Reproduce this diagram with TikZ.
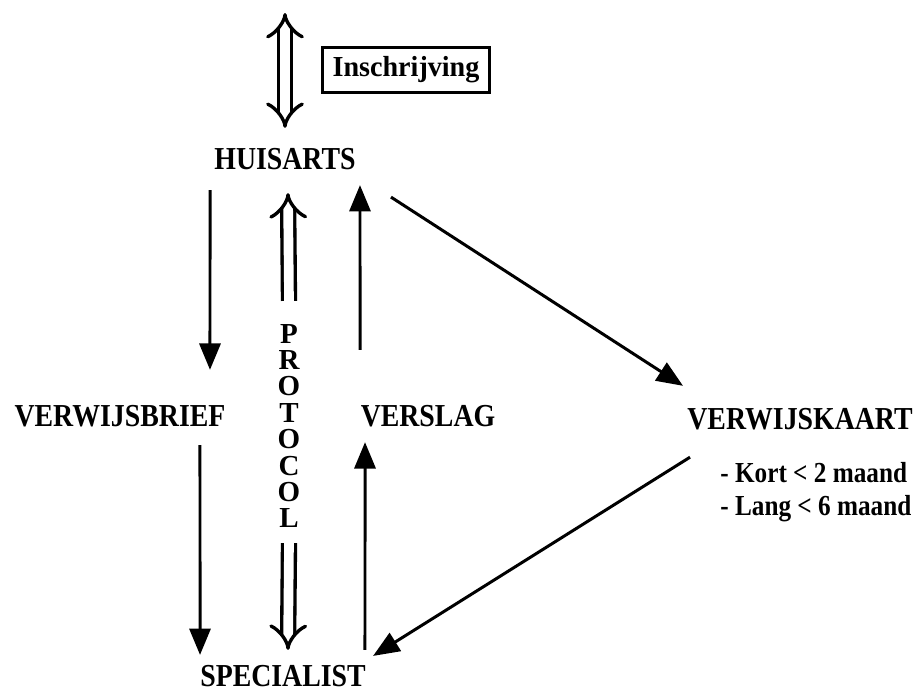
\documentclass[tikz,border=0pt]{standalone}
\usepackage{fontspec}
\setmainfont{Liberation Serif}[FakeStretch=0.87]
\newfontfamily\boxfont{Liberation Serif}[FakeStretch=0.97]
\newfontfamily\protfont{Liberation Serif}
\usetikzlibrary{arrows.meta}

\begin{document}
\begin{tikzpicture}[x=0.02cm,y=-0.02cm,
  lbl/.style={inner sep=0pt,font=\fontsize{18.2}{21}\selectfont\bfseries},
  arr/.style={line width=1.7pt,-{Triangle[length=15pt,width=12pt]}},
  dbl/.style={double,line width=1.9pt,double distance=5.5pt}]
\useasboundingbox (0,0) rectangle (918,693);

\coordinate (reg) at (285,13);
\node [lbl] (hu) at (285,159) {HUISARTS};
\node [draw,line width=1.2pt,minimum width=3.34cm,minimum height=0.9cm,inner sep=0pt,font=\fontsize{16.5}{19}\selectfont\boxfont\bfseries] (ins) at (406,70) {Inschrijving};
\node [lbl] (vb) at (120,416) {VERWIJSBRIEF};
\node [lbl] (vs) at (428,416) {VERSLAG};
\node [lbl] (vk) at (800,419) {VERWIJSKAART};
\node [anchor=north west,inner sep=0pt,align=left,font=\fontsize{16.5}{18.7}\selectfont\bfseries] (dur) at (720,462) {- Kort < 2 maand\\- Lang < 6 maand};
\node [inner sep=0pt,align=center,font=\fontsize{16.5}{15}\selectfont\protfont\bfseries] (prot) at (289,426) {P\\R\\O\\T\\O\\C\\O\\L};
\node [lbl] (sp) at (283,676) {SPECIALIST};

\draw [dbl,Implies-Implies] (reg) -- ([yshift=0.4cm]hu.north);
\draw [dbl,Implies-] ([xshift=0.06cm,yshift=-0.46cm]hu.south) -- ([yshift=0.46cm]prot.north);
\draw [dbl,-Implies] ([yshift=-0.3cm]prot.south) -- ([xshift=0.1cm,yshift=0.3cm]sp.north);

\draw [arr] ([xshift=-1.5cm,yshift=-0.4cm]hu.south) -- ([xshift=1.8cm,yshift=0.7cm]vb.north);
\draw [arr] ([xshift=1.6cm,yshift=-0.36cm]vb.south) -- ([xshift=-1.66cm,yshift=0.2cm]sp.north);
\draw [arr] ([xshift=1.64cm,yshift=0.3cm]sp.north) -- ([xshift=-1.26cm,yshift=-0.3cm]vs.south);
\draw [arr] ([xshift=-1.36cm,yshift=1.1cm]vs.north) -- ([xshift=1.5cm,yshift=-0.3cm]hu.south);
\draw [arr] ([xshift=0.7cm,yshift=-0.54cm]hu.south east) -- ([xshift=-0.08cm,yshift=0.44cm]vk.north west);
\draw [arr] ([xshift=0.06cm,yshift=-0.54cm]vk.south west) -- ([xshift=0.14cm,yshift=0.18cm]sp.north east);
\end{tikzpicture}
\end{document}
